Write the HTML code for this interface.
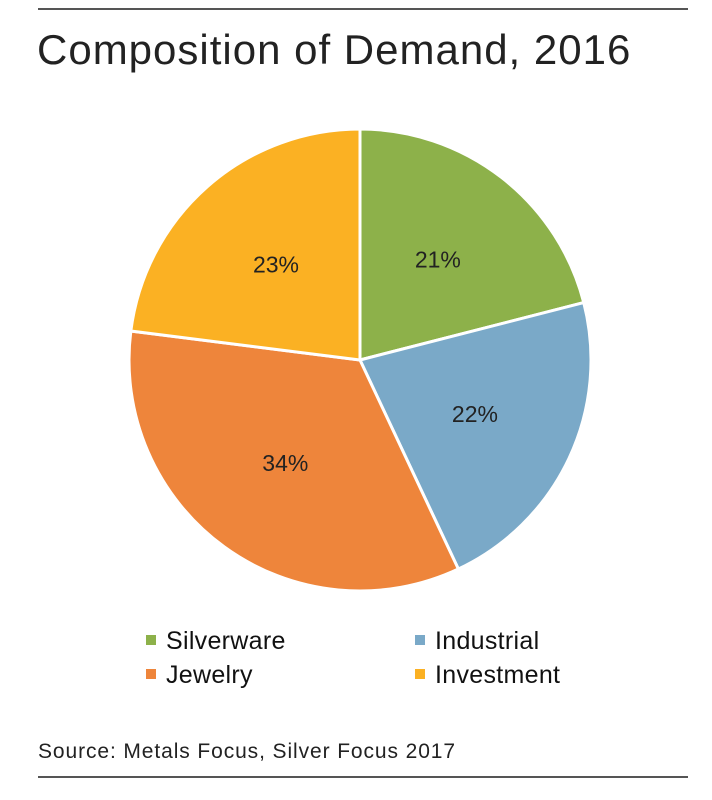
<!DOCTYPE html>
<html><head><meta charset="utf-8"><style>
body{margin:0;width:712px;height:800px;background:#fff;font-family:"Liberation Sans",sans-serif;position:relative;overflow:hidden}
.rule{position:absolute;left:38px;width:650px;height:2px;background:#555}
#title{position:absolute;left:37px;top:26px;font-size:42px;color:#222;letter-spacing:1px;white-space:nowrap}
.leg{position:absolute;font-size:25px;color:#111;white-space:nowrap;letter-spacing:0.3px}
.sw{display:inline-block;width:10px;height:10px;margin-right:10px;vertical-align:middle;position:relative;top:-2px}
#src{position:absolute;left:38px;top:740px;font-size:21px;color:#222;letter-spacing:0.9px;white-space:nowrap}
</style></head><body>
<div class="rule" style="top:8px"></div>
<div id="title">Composition of Demand, 2016</div>
<svg id="pie" width="712" height="620" style="position:absolute;left:0;top:0"></svg>
<div class="leg" style="left:146px;top:627px"><span class="sw" style="background:#8db14a"></span>Silverware</div>
<div class="leg" style="left:415px;top:627px"><span class="sw" style="background:#7aa9c8"></span>Industrial</div>
<div class="leg" style="left:146px;top:661px"><span class="sw" style="background:#ee853b"></span>Jewelry</div>
<div class="leg" style="left:415px;top:661px"><span class="sw" style="background:#fbb123"></span>Investment</div>
<div id="src">Source: Metals Focus, Silver Focus 2017</div>
<div class="rule" style="top:776px"></div>
<script>
const categories=["Silverware","Industrial","Jewelry","Investment"];
const values=[21,22,34,23];
const labels=["21%","22%","34%","23%"];
const colors=["#8db14a","#7aa9c8","#ee853b","#fbb123"];
const svg=document.getElementById('pie');
const NS="http://www.w3.org/2000/svg";
const cx=360,cy=360,r=231;
const total=values.reduce((a,b)=>a+b,0);
function pt(a,rr){return [cx+rr*Math.sin(a),cy-rr*Math.cos(a)];}
let a0=0;
values.forEach((v,i)=>{
  const a1=a0+v/total*2*Math.PI;
  const p0=pt(a0,r),p1=pt(a1,r);
  const large=(a1-a0)>Math.PI?1:0;
  const path=document.createElementNS(NS,'path');
  path.setAttribute('d',`M${cx},${cy}L${p0[0]},${p0[1]}A${r},${r} 0 ${large} 1 ${p1[0]},${p1[1]}Z`);
  path.setAttribute('fill',colors[i]);
  path.setAttribute('stroke','#fff');
  path.setAttribute('stroke-width','3');
  
  
  svg.appendChild(path);
  const lp=pt((a0+a1)/2,r*0.55);
  const t=document.createElementNS(NS,'text');
  t.setAttribute('x',lp[0]);t.setAttribute('y',lp[1]+8);
  t.setAttribute('text-anchor','middle');
  t.setAttribute('font-size','23');
  t.setAttribute('fill','#222');
  t.setAttribute('font-family','Liberation Sans, sans-serif');
  t.textContent=labels[i];
  
  
  svg.appendChild(t);
  a0=a1;
});
</script>
</body></html>
